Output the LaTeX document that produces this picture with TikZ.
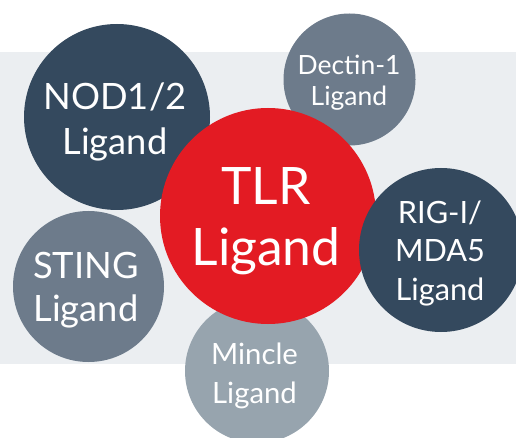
\documentclass[tikz,border=0pt]{standalone}
\usepackage{fontspec}
\setmainfont{Lato}
\definecolor{navy}{HTML}{34495E}
\definecolor{slate}{HTML}{6D7B8B}
\definecolor{pale}{HTML}{97A4AE}
\definecolor{tlrred}{HTML}{E31B23}
\definecolor{band}{HTML}{EBEEF1}
\begin{document}
\begin{tikzpicture}[x=1pt,y=-1pt,
  bub/.style={circle,inner sep=0pt,minimum size=#1},
  lab/.style={text=white,align=center,inner sep=0pt}]
\useasboundingbox (0,0) rectangle (516,438);
\fill[band] (0,52) rectangle (516,364);
% circles
\node[bub=144pt, fill=pale] (mincle) at (257,371) {};
\node[bub=186pt, fill=navy] (nod) at (117,117) {};
\node[bub=132pt, fill=slate] (dectin) at (349.5,79.5) {};
\node[bub=151pt, fill=slate] (sting) at (88.5,286.5) {};
\node[bub=216pt, fill=tlrred] (tlr) at (268,216) {};
\node[bub=164pt, fill=navy] (rig) at (441,250) {};
% labels
\node[lab, font=\fontsize{36.3}{45}\selectfont] (nodt) at (115,121.8) {NOD1/2\\Ligand};
\node[lab, font=\fontsize{26.5}{31}\selectfont] (dectint) at (349,82.4) {Dectin-1\\Ligand};
\node[lab, font=\fontsize{51.6}{61}\selectfont] (tlrt) at (266,221.6) {TLR\\Ligand};
\node[lab, font=\fontsize{30.7}{38.5}\selectfont] (rigt) at (440,253.3) {RIG-I/\\MDA5\\Ligand};
\node[lab, font=\fontsize{36.3}{43}\selectfont] (stingt) at (86,289.8) {STING\\Ligand};
\node[lab, font=\fontsize{29.3}{39}\selectfont] (minclet) at (254.5,375.7) {Mincle\\Ligand};
\end{tikzpicture}
\end{document}
